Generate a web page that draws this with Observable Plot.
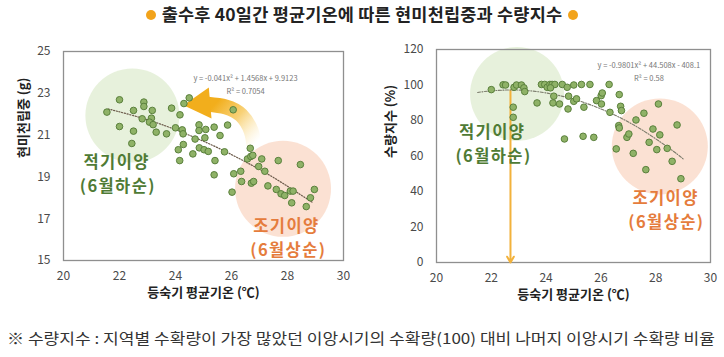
<!DOCTYPE html>
<html>
<head>
<meta charset="utf-8">
<script src="https://cdn.jsdelivr.net/npm/d3@7"></script>
<script src="https://cdn.jsdelivr.net/npm/@observablehq/plot@0.6"></script>
<style>
  html, body { margin: 0; padding: 0; background: #fff; }
  body { width: 724px; height: 357px; position: relative; overflow: hidden; font-family: "Noto Sans CJK KR", "Noto Sans", sans-serif; }
  #title { position: absolute; top: 0; left: 0; width: 724px; height: 28px; line-height: 28px; text-align: center; font-weight: 700; font-size: 17.5px; color: #222; letter-spacing: 0.2px; }
  #title .dot { display: inline-block; width: 10px; height: 10px; border-radius: 50%; background: #f2a31b; vertical-align: 1px; margin: 0 6px; }
  #left { position: absolute; top: 0; left: 0; }
  #right { position: absolute; top: 0; left: 362px; }
  #note { position: absolute; top: 327px; left: 7px; white-space: nowrap; font-size: 15px; line-height: 22px; color: #333; transform-origin: left center; }
  g[font-size="16.5"] text { letter-spacing: 1.4px; }
</style>
</head>
<body>
<div id="title"></div>
<div id="left"></div>
<div id="right"></div>
<div id="note"></div>
<script>
// ---------- data ----------
const titleText = "출수후 40일간 평균기온에 따른 현미천립중과 수량지수";
const noteText = "※ 수량지수 : 지역별 수확량이 가장 많았던 이앙시기의 수확량(100) 대비 나머지 이앙시기 수확량 비율";
const xLabel = "등숙기 평균기온 (℃)";
const leftYLabel = "현미천립중 (g)";
const rightYLabel = "수량지수 (%)";
const xTicks = [20, 22, 24, 26, 28, 30];
const leftYTicks = [15, 17, 19, 21, 23, 25];
const rightYTicks = [0, 20, 40, 60, 80, 100, 120];

// left chart: temperature vs 1000-grain weight
const leftTemp = [21.55,22.0,22.0,22.5,22.5,22.44,22.87,22.87,22.81,23.17,23.14,23.07,23.2,23.31,23.68,23.86,24.16,24.0,24.24,24.27,24.1,24.15,24.28,24.3,24.49,24.7,24.62,24.84,24.84,24.85,25.05,25.08,25.02,25.17,25.38,25.41,25.38,25.59,25.86,25.75,26.06,26.02,26.08,26.33,26.36,26.57,26.67,26.69,26.76,26.71,26.79,26.97,27.08,27.19,27.3,27.67,27.6,27.77,27.9,28.1,28.2,28.15,28.46,28.67,28.82,28.96];
const leftWeight = [22.10,22.69,21.41,22.18,21.19,20.6,22.58,22.37,21.78,22.18,21.81,21.62,21.5,21.14,21.06,22.29,21.97,21.35,21.25,21.06,20.30,19.78,20.55,22.51,22.78,20.81,20.10,21.49,21.22,20.39,20.87,21.27,20.30,20.22,21.38,19.78,19.10,20.98,21.48,20.2,22.21,18.27,19.15,19.27,18.78,19.86,20.37,19.98,20.03,18.70,18.78,19.5,19.86,19.27,18.57,19.78,18.4,18.19,18.11,18.32,18.32,17.76,19.59,17.58,18.0,18.4];
const leftTrendX = [21.6,22.5,23.5,24.5,25.5,26.5,27.5,28.9];
const leftTrendY = [22.25,21.93,21.51,20.99,20.40,19.72,18.97,17.77];
const leftEq = "y = -0.041x² + 1.4568x + 9.9123";
const leftR2 = "R² = 0.7054";

// right chart: temperature vs yield index
const rightTemp = [22.0,22.43,22.52,22.83,22.92,23.1,23.19,23.22,22.8,22.8,23.67,23.83,23.95,24.04,24.14,24.22,24.32,24.16,24.28,24.25,24.49,24.59,24.77,25.01,25.29,25.6,24.82,24.8,25.01,25.11,25.38,24.67,25.35,25.74,25.84,26.01,26.05,26.02,26.3,26.33,26.67,26.72,26.75,26.65,26.67,26.56,26.95,27.02,27.18,27.28,27.57,27.64,27.76,27.9,28.04,28.1,28.15,28.42,28.6,28.78,28.92];
const rightYield = [97.4,100.1,100,98.7,100,100,98.4,96.3,87.5,81.8,89.9,100.3,100.3,98.7,100.3,100.3,100.3,98.4,93.7,89.9,89.3,100.3,98.7,100,100.3,100.3,93.7,86.5,90.8,92.2,87.5,69.6,71.1,70.5,91.2,94.0,95.5,89.3,100.3,84.6,94.6,88,85.6,77.1,75.8,64,70.5,72.4,61.5,80.3,84.1,52.3,67.7,75.2,63.6,89.3,71.9,64.3,57,77.5,47.2];
const rightTrendX = [21.5,22,22.7,23.5,24.5,25.5,26.5,27.5,28.5,29];
const rightTrendY = [95.8,96.7,97.2,96.6,94.0,89.5,83.1,74.7,64.3,58.4];
const rightEq = "y = -0.9801x² + 44.508x - 408.1";
const rightR2 = "R² = 0.58";
const optimumTemp = 22.7;
const optimumYield = 97;

// annotations
const greenLabel1 = "적기이양", greenLabel2 = "(6월하순)";
const orangeLabel1 = "조기이양", orangeLabel2 = "(6월상순)";

// ---------- build ----------
const zip = (xs, ys) => xs.map((x, i) => ({x, y: ys[i]}));
const FONT = "'Noto Sans CJK KR', 'Noto Sans', sans-serif";
const green = "#4f7b35", orange = "#e57c3c";
const dotFill = "#8fb267", dotStroke = "#5a803c";

document.getElementById("title").innerHTML =
  `<span class="dot"></span>${titleText}<span class="dot"></span>`;

function addGradient(svg) {
  svg.insertAdjacentHTML("afterbegin",
    `<defs><linearGradient id="armgrad" x1="0" y1="0.2" x2="1" y2="1">
      <stop offset="0" stop-color="#f2ae1c" stop-opacity="1"/>
      <stop offset="0.45" stop-color="#f6c24a" stop-opacity="0.75"/>
      <stop offset="1" stop-color="#fbe3a0" stop-opacity="0"/>
    </linearGradient></defs>`);
}

function axisTitles(yLabel, dxY) {
  return [
    Plot.text([xLabel], {frameAnchor: "bottom", dy: 36, fontSize: 13, fontWeight: 700, fill: "#222"}),
    Plot.text([yLabel], {frameAnchor: "left", rotate: -90, dx: dxY, dy: 2, fontSize: 13, fontWeight: 700, fill: "#222"})
  ];
}

function label(text, x, y, fill) {
  return Plot.text([text], {x: () => x, y: () => y, fontSize: 16.5, fontWeight: 700, fill});
}

const left = Plot.plot({
  width: 362, height: 312,
  marginTop: 51, marginBottom: 52, marginLeft: 63, marginRight: 19,
  style: {fontFamily: FONT, fontSize: "12px", color: "#4a4a4a", background: "transparent", overflow: "visible"},
  x: {domain: [20, 30], ticks: xTicks, tickSize: 0, tickPadding: 11, label: null},
  y: {domain: [15, 25], ticks: leftYTicks, tickSize: 0, tickPadding: 13, label: null},
  marks: [
    Plot.dot([{x: 22.46, y: 21.94}], {x: "x", y: "y", r: 47, fill: "#e6f0da", fillOpacity: 0.95}),
    Plot.dot([{x: 27.84, y: 18.43}], {x: "x", y: "y", r: 48, fill: "#fbdfd1", fillOpacity: 0.95}),
    Plot.line([{x: 26.8, y: 20.5}, {x: 26.7, y: 21.2}, {x: 26.35, y: 21.95}, {x: 25.8, y: 22.35}, {x: 25.15, y: 22.48}],
      {x: "x", y: "y", curve: "natural", stroke: "url(#armgrad)", strokeWidth: 15, strokeLinecap: "butt"}),
    Plot.dot([{x: 24.92, y: 22.5}], {x: "x", y: "y", symbol: "triangle", r: 11.5, rotate: -95, fill: "#f2ae1c", stroke: "none"}),
    Plot.frame({stroke: "#8f8f8f", strokeWidth: 1.3}),
    Plot.line(zip(leftTrendX, leftTrendY), {x: "x", y: "y", curve: "natural", stroke: "#6b5a4a", strokeWidth: 1.2, strokeDasharray: "1.2,1.6"}),
    Plot.dot(zip(leftTemp, leftWeight), {x: "x", y: "y", r: 3.3, fill: dotFill, stroke: dotStroke, strokeWidth: 1}),
    Plot.text([leftEq], {x: () => 26.5, y: () => 23.72, fontSize: 7.5, fill: "#777"}),
    Plot.text([leftR2], {x: () => 26.5, y: () => 23.1, fontSize: 7.5, fill: "#777"}),
    label(greenLabel1, 21.90, 19.69, green),
    label(greenLabel2, 21.94, 18.54, green),
    label(orangeLabel1, 27.96, 16.63, orange),
    label(orangeLabel2, 28.03, 15.48, orange),
    ...axisTitles(leftYLabel, -40)
  ]
});
addGradient(left);
document.getElementById("left").appendChild(left);

const right = Plot.plot({
  width: 362, height: 312,
  marginTop: 49, marginBottom: 50, marginLeft: 74, marginRight: 14,
  style: {fontFamily: FONT, fontSize: "12px", color: "#4a4a4a", background: "transparent", overflow: "visible"},
  x: {domain: [20, 30], ticks: xTicks, tickSize: 0, tickPadding: 11, label: null},
  y: {domain: [0, 120], ticks: rightYTicks, tickSize: 0, tickPadding: 13, label: null},
  marks: [
    Plot.dot([{x: 22.94, y: 95.0}], {x: "x", y: "y", r: 47, fill: "#e6f0da", fillOpacity: 0.95}),
    Plot.dot([{x: 28.15, y: 65.4}], {x: "x", y: "y", r: 48, fill: "#fbdfd1", fillOpacity: 0.95}),
    Plot.frame({stroke: "#8f8f8f", strokeWidth: 1.3}),
    Plot.arrow([{x: optimumTemp, y1: optimumYield, y2: 0}], {x: "x", y1: "y1", y2: "y2", stroke: "#f2b23c", strokeWidth: 2, headLength: 5}),
    Plot.line(zip(rightTrendX, rightTrendY), {x: "x", y: "y", curve: "natural", stroke: "#7a7a6a", strokeWidth: 1.1, strokeDasharray: "3,1.5,1,1.5"}),
    Plot.dot(zip(rightTemp, rightYield), {x: "x", y: "y", r: 3.3, fill: dotFill, stroke: dotStroke, strokeWidth: 1}),
    Plot.text([rightEq], {x: () => 27.75, y: () => 110.7, fontSize: 7.5, fill: "#777"}),
    Plot.text([rightR2], {x: () => 27.75, y: () => 103.4, fontSize: 7.5, fill: "#777"}),
    label(greenLabel1, 22.03, 73.2, green),
    label(greenLabel2, 22.08, 59.7, green),
    label(orangeLabel1, 28.36, 36.1, orange),
    label(orangeLabel2, 28.39, 22.5, orange),
    ...axisTitles(rightYLabel, -46)
  ]
});
document.getElementById("right").appendChild(right);

const note = document.getElementById("note");
note.textContent = noteText;
const targetW = 708;
const w = note.getBoundingClientRect().width;
if (w > 0) note.style.transform = `scaleX(${targetW / w})`;
</script>
</body>
</html>
